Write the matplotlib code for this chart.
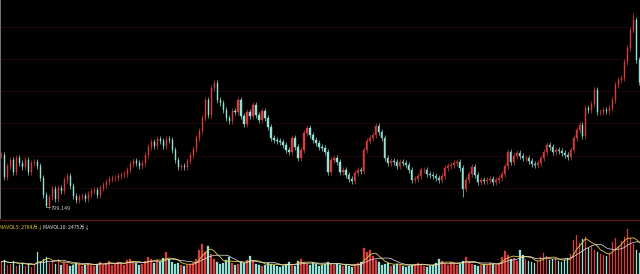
import matplotlib
matplotlib.use("Agg")
import matplotlib.pyplot as plt
import numpy as np

# ---- data ----
closes = [
    1320, 1100, 1210, 1270, 1150, 1290, 1240, 1200, 1270, 1150, 1240, 1250, 1210, 1090, 920,
    810, 900, 980, 880, 990, 960, 1070, 1110, 1010, 910, 870, 900, 910, 880, 930,
    960, 970, 920, 990, 1020, 1050, 1080, 1090, 1090, 1110, 1120, 1130, 1170, 1230, 1260,
    1240, 1210, 1240, 1320, 1400, 1450, 1410, 1480, 1460, 1410, 1480, 1470, 1370, 1270, 1200,
    1210, 1200, 1260, 1320, 1380, 1490, 1560, 1690, 1870, 1720, 1990, 2040, 1870, 1840, 1770,
    1690, 1660, 1760, 1750, 1870, 1710, 1630, 1750, 1710, 1820, 1720, 1670, 1760, 1690, 1600,
    1490, 1470, 1460, 1450, 1420, 1370, 1350, 1490, 1400, 1290, 1370, 1540, 1590, 1520, 1470,
    1440, 1400, 1390, 1350, 1150, 1270, 1290, 1250, 1150, 1170, 1120, 1080, 1060, 1140, 1170,
    1160, 1370, 1460, 1490, 1520, 1610, 1550, 1490, 1290, 1240, 1260, 1250, 1210, 1250, 1240,
    1220, 1170, 1070, 1080, 1110, 1170, 1170, 1130, 1120, 1110, 1090, 1070, 1110, 1190, 1210,
    1220, 1240, 1250, 1190, 980, 1070, 1130, 1200, 1120, 1050, 1070, 1060, 1070, 1080, 1050,
    1070, 1090, 1130, 1210, 1350, 1250, 1310, 1340, 1310, 1290, 1290, 1260, 1230, 1220, 1240,
    1290, 1350, 1420, 1400, 1350, 1370, 1360, 1340, 1320, 1300, 1370, 1490, 1570, 1620, 1510,
    1790, 1770, 1830, 1970, 1750, 1750, 1770, 1760, 1790, 1870, 2020, 2070, 2090, 2250, 2390,
    2570, 2670, 2270, 2050,
]
volumes = [
    1300, 1500, 1000, 1100, 1400, 900, 1000, 1200, 900, 1100, 800, 1000, 2400, 1300,
    1600, 1800, 1200, 1400, 1100, 1600, 1000, 1300, 1100, 900, 1000, 1200, 1100,
    900, 1000, 1200, 1000, 900, 1100, 1300, 1000, 1200, 1400, 1000, 1100, 1300,
    1200, 1000, 1500, 1600, 1300, 1200, 1000, 1100, 1400, 1800, 1600, 1200, 1500,
    1300, 1700, 2400, 1600, 1300, 1100, 1200, 1000, 900, 1000, 1100, 1200, 1600, 2600,
    3200, 2400, 3000, 2100, 1600, 1300, 1100, 1200, 1500, 1800, 1200, 1000, 1100, 1300,
    1200, 1500, 1900, 1400, 1100, 1000, 900, 1000, 1200, 1100, 1000, 900, 800, 900,
    1100, 1300, 1000, 900, 1400, 1600, 1300, 1100, 1000, 1200, 1100, 900, 1000, 1100,
    1300, 1100, 1000, 1100, 1000, 900, 1000, 900, 800, 1000, 1200, 1300, 2800, 2300,
    2600, 1900, 1500, 1300, 1000, 1100, 1200, 900, 1000, 1100, 1000, 900, 800, 900,
    1000, 1100, 1200, 1000, 900, 800, 900, 1000, 1200, 1600, 1400, 1100, 1000, 1300,
    1200, 1000, 1100, 1400, 1800, 1300, 1100, 1000, 900, 1000, 1100, 1000, 1200, 1100,
    1000, 1200, 1800, 2500, 2000, 1600, 1700, 1400, 2600, 2000, 1600, 1400, 1300,
    1200, 1400, 1800, 2200, 1900, 1500, 1600, 1700, 1400, 1300, 1500, 1700, 2100,
    3600, 4200, 3300, 3700, 4000, 2800, 3000, 2600, 2400, 2100, 2000, 1900, 2200,
    3400, 3800, 3000, 3500, 4000, 4800, 3800, 3200, 2600, 2200,
]
low_wicks = {15: 799.149, 154: 900}
high_wicks = {211: 2740}
low_label = "799.149"
mavol5_label = "MAVOL5: 2784万↓"
mavol10_label = "MAVOL10: 2475万↓"
grid_prices = [990, 1313, 1636, 1959, 2282, 2605]

n = min(len(closes), len(volumes))
closes = np.array(closes[:n], dtype=float)
volumes = np.array(volumes[:n], dtype=float)
opens = np.concatenate([[closes[0]], closes[:-1]])
WICK = 30  # visual wick extension (style)
highs = np.maximum(opens, closes) + WICK
lows = np.minimum(opens, closes) - WICK
for k, v in low_wicks.items():
    lows[k] = v
for k, v in high_wicks.items():
    highs[k] = v
idx = np.arange(n)
up = closes >= opens

UP = "#d83c3c"
DN = "#92e2d6"
BG = "#000000"
cols = np.where(up, UP, DN)

plt.rcParams['font.family'] = ['Noto Sans CJK SC', 'DejaVu Sans']

W, H = 640, 274
fig = plt.figure(figsize=(W / 100, H / 100), dpi=100, facecolor=BG)
ax = fig.add_axes([0, 55 / H, 1, 219 / H], facecolor=BG)
axv = fig.add_axes([0, 0, 1, 54 / H], facecolor=BG)

for a in (ax, axv):
    a.set_xlim(-0.5, n - 0.8)
    a.set_xticks([])
    a.set_yticks([])
    for s in a.spines.values():
        s.set_visible(False)

ax.set_ylim(680, 2870)
for gp in grid_prices:
    ax.axhline(gp, color="#1c0606", lw=0.7, zorder=0)

ax.vlines(idx, lows, highs, colors=cols, lw=0.5, zorder=2)
ax.bar(idx, np.abs(closes - opens), bottom=np.minimum(opens, closes), width=0.4,
       color=cols, edgecolor=cols, linewidth=0.3, zorder=3)

# left border line
ax.axvline(-0.4, color="#8a8a8a", lw=1.2, zorder=4)

# low annotation
li = 15
ax.plot([li, li + 1.3], [low_wicks[li], low_wicks[li]], color="#bbbbbb", lw=0.5)
ax.text(li + 1.4, low_wicks[li] - 10, low_label, color="#c8c8c8", fontsize=4.0,
        va="center", ha="left")

# volume panel
axv.set_ylim(0, 5760)
axv.spines['top'].set_visible(True)
axv.spines['top'].set_color("#5a1212")
axv.spines['top'].set_linewidth(1.0)
axv.bar(idx, volumes, width=0.6, color=cols, edgecolor=cols, linewidth=0.2, zorder=2)
ma5 = np.convolve(volumes, np.ones(5) / 5, mode="full")[:n]
ma5[:4] = [volumes[:i + 1].mean() for i in range(4)]
ma10 = np.convolve(volumes, np.ones(10) / 10, mode="full")[:n]
ma10[:9] = [volumes[:i + 1].mean() for i in range(9)]
axv.plot(idx, ma5, color="#e8d040", lw=0.6, zorder=3)
axv.plot(idx, ma10, color="#e8e8e8", lw=0.5, zorder=3)

axv.text(-1 / W, 0.87, mavol5_label, transform=axv.transAxes, color="#e0d030",
         fontsize=3.7, va="center", ha="left")
axv.text(43 / W, 0.87, mavol10_label, transform=axv.transAxes, color="#e0e0e0",
         fontsize=3.7, va="center", ha="left")

fig.savefig("out.png", dpi=100, facecolor=BG)
